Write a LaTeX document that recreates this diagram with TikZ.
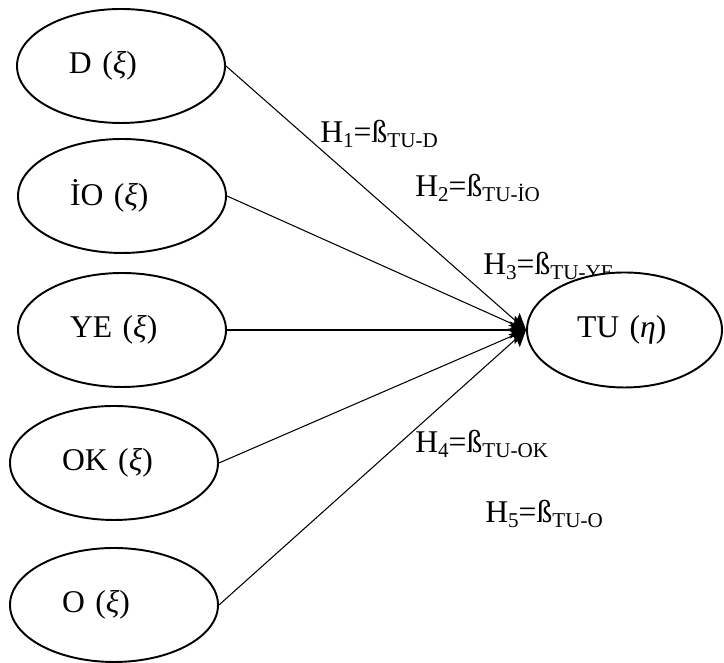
\documentclass[tikz,border=0pt]{standalone}
\usepackage{fontspec}
\setmainfont{Liberation Serif}
\usetikzlibrary{arrows.meta, shapes.geometric}

% lowered, smaller text for the path coefficients
\newcommand{\hsub}[1]{\raisebox{-0.14em}{\fontsize{12}{12}\selectfont #1}}

\begin{document}
\begin{tikzpicture}[font=\fontsize{18}{22}\selectfont]
  \tikzset{
    construct/.style={draw, ellipse, line width=1.1pt, fill=white,
      minimum width=4.16cm, minimum height=2.28cm, inner sep=0pt,
      text width=2.08cm, align=left},
    effect/.style={line width=0.6pt,
      -{Stealth[length=3.2mm, width=3.4mm, inset=0.6mm]}},
    coef/.style={anchor=base west, inner sep=0pt}
  }
  \useasboundingbox (0,0) rectangle (14.48,13.26);

  % exogenous constructs
  \foreach \name/\cx/\cy/\txt in {
    d/2.42/11.94/D,
    io/2.44/9.34/İO,
    ye/2.44/6.66/YE,
    ok/2.28/4.0/OK,
    o/2.28/1.16/O}{
    \node[construct] (\name) at (\cx,\cy) {\txt{} (\textit{ξ})};
  }

  % hypotheses
  \node[coef] (h1) at (6.4,10.4)  {H\hsub{1}=ß\hsub{TU-D}};
  \node[coef] (h2) at (8.3,9.32)  {H\hsub{2}=ß\hsub{TU-İO}};
  \node[coef] (h3) at (9.66,7.76) {H\hsub{3}=ß\hsub{TU-YE}};
  \node[coef] (h4) at (8.3,4.2)   {H\hsub{4}=ß\hsub{TU-OK}};
  \node[coef] (h5) at (9.7,2.8)   {H\hsub{5}=ß\hsub{TU-O}};

  % endogenous construct
  \node[construct, minimum width=3.9cm, minimum height=2.3cm, text width=1.9cm]
    (tu) at (12.49,6.66) {TU (\textit{η})};

  \foreach \src in {d, io, ye, ok, o}
    \draw[effect] (\src.east) -- (tu.west);
\end{tikzpicture}
\end{document}
